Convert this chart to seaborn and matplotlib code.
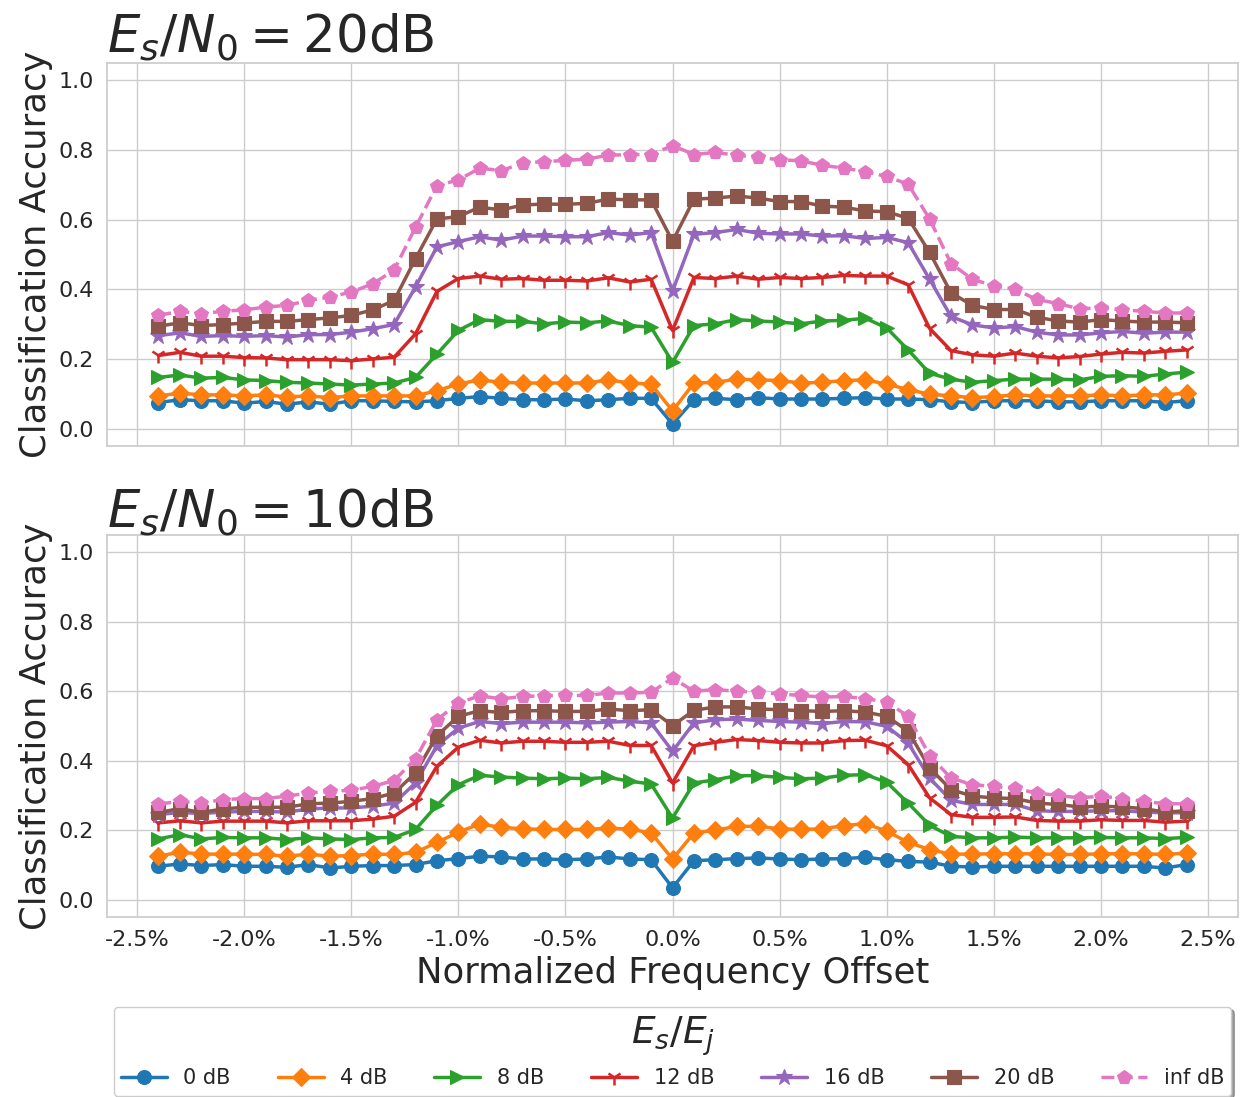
import matplotlib
matplotlib.use("Agg")
import matplotlib.pyplot as plt
from matplotlib.ticker import FuncFormatter, MultipleLocator
import seaborn as sns

# Normalized frequency offset, in percent
offsets = [round(0.1 * k, 1) for k in range(-24, 25)]

# Es/N0 = 20 dB
acc20_0 = [0.075, 0.083, 0.080, 0.080, 0.073, 0.078, 0.070, 0.077, 0.070, 0.080, 0.080, 0.078, 0.077,
           0.080, 0.087, 0.092, 0.087, 0.083, 0.083, 0.085, 0.080, 0.083, 0.087, 0.087, 0.013,
           0.083, 0.087, 0.083, 0.089, 0.085, 0.085, 0.085, 0.087, 0.089, 0.085, 0.085, 0.083,
           0.077, 0.075, 0.080, 0.080, 0.080, 0.077, 0.077, 0.080, 0.080, 0.080, 0.075, 0.080]
acc20_4 = [0.094, 0.102, 0.097, 0.097, 0.094, 0.097, 0.091, 0.094, 0.089, 0.094, 0.094, 0.094, 0.094,
           0.109, 0.128, 0.140, 0.133, 0.131, 0.131, 0.131, 0.131, 0.140, 0.131, 0.128, 0.051,
           0.131, 0.133, 0.142, 0.140, 0.138, 0.131, 0.133, 0.138, 0.140, 0.128, 0.112, 0.099,
           0.094, 0.089, 0.092, 0.097, 0.094, 0.094, 0.094, 0.097, 0.094, 0.097, 0.097, 0.102]
acc20_8 = [0.147, 0.154, 0.145, 0.147, 0.140, 0.138, 0.133, 0.131, 0.128, 0.125, 0.128, 0.131, 0.147,
           0.214, 0.282, 0.313, 0.308, 0.308, 0.301, 0.306, 0.304, 0.309, 0.296, 0.291, 0.190,
           0.296, 0.301, 0.313, 0.309, 0.306, 0.301, 0.309, 0.311, 0.317, 0.289, 0.226, 0.159,
           0.142, 0.133, 0.138, 0.142, 0.142, 0.142, 0.140, 0.150, 0.152, 0.150, 0.157, 0.162]
acc20_12 = [0.210, 0.219, 0.208, 0.208, 0.204, 0.203, 0.198, 0.198, 0.198, 0.195, 0.200, 0.205, 0.272,
            0.394, 0.431, 0.438, 0.429, 0.431, 0.426, 0.426, 0.424, 0.433, 0.421, 0.429, 0.282,
            0.434, 0.431, 0.438, 0.429, 0.434, 0.431, 0.434, 0.440, 0.438, 0.438, 0.413, 0.288,
            0.224, 0.212, 0.208, 0.217, 0.208, 0.203, 0.207, 0.214, 0.219, 0.217, 0.222, 0.226]
acc20_16 = [0.267, 0.275, 0.265, 0.267, 0.265, 0.267, 0.263, 0.270, 0.270, 0.277, 0.287, 0.299, 0.407,
            0.522, 0.537, 0.551, 0.541, 0.553, 0.553, 0.551, 0.551, 0.563, 0.556, 0.563, 0.395,
            0.558, 0.563, 0.572, 0.561, 0.559, 0.559, 0.553, 0.554, 0.546, 0.549, 0.534, 0.429,
            0.322, 0.298, 0.289, 0.293, 0.277, 0.269, 0.269, 0.275, 0.279, 0.274, 0.277, 0.277]
acc20_20 = [0.294, 0.304, 0.296, 0.299, 0.303, 0.308, 0.308, 0.313, 0.318, 0.325, 0.341, 0.368, 0.488,
            0.602, 0.609, 0.636, 0.628, 0.642, 0.645, 0.644, 0.647, 0.659, 0.657, 0.657, 0.538,
            0.659, 0.662, 0.668, 0.662, 0.652, 0.652, 0.639, 0.636, 0.625, 0.623, 0.604, 0.506,
            0.390, 0.354, 0.342, 0.342, 0.320, 0.309, 0.306, 0.313, 0.309, 0.306, 0.306, 0.304]
acc20_inf = [0.325, 0.337, 0.330, 0.337, 0.341, 0.349, 0.354, 0.368, 0.378, 0.392, 0.416, 0.455, 0.578,
             0.698, 0.714, 0.748, 0.741, 0.762, 0.767, 0.770, 0.774, 0.785, 0.787, 0.787, 0.813,
             0.787, 0.793, 0.785, 0.779, 0.772, 0.769, 0.756, 0.748, 0.738, 0.724, 0.702, 0.602,
             0.474, 0.429, 0.410, 0.400, 0.371, 0.359, 0.344, 0.347, 0.341, 0.337, 0.332, 0.332]

# Es/N0 = 10 dB
acc10_0 = [0.096, 0.103, 0.098, 0.101, 0.096, 0.096, 0.093, 0.101, 0.091, 0.096, 0.098, 0.098, 0.101,
           0.112, 0.118, 0.125, 0.123, 0.117, 0.117, 0.115, 0.117, 0.123, 0.117, 0.115, 0.034,
           0.112, 0.115, 0.118, 0.120, 0.117, 0.115, 0.117, 0.118, 0.122, 0.115, 0.110, 0.108,
           0.096, 0.094, 0.096, 0.096, 0.096, 0.096, 0.096, 0.096, 0.096, 0.096, 0.091, 0.101]
acc10_4 = [0.125, 0.137, 0.131, 0.131, 0.131, 0.130, 0.125, 0.131, 0.125, 0.127, 0.131, 0.130, 0.136,
           0.165, 0.194, 0.218, 0.208, 0.204, 0.202, 0.202, 0.202, 0.206, 0.203, 0.192, 0.117,
           0.192, 0.200, 0.211, 0.211, 0.204, 0.202, 0.204, 0.213, 0.219, 0.197, 0.165, 0.144,
           0.131, 0.131, 0.132, 0.132, 0.132, 0.130, 0.130, 0.132, 0.132, 0.132, 0.130, 0.134]
acc10_8 = [0.175, 0.187, 0.175, 0.179, 0.178, 0.178, 0.173, 0.178, 0.175, 0.173, 0.178, 0.179, 0.202,
           0.272, 0.331, 0.358, 0.353, 0.350, 0.348, 0.350, 0.348, 0.352, 0.341, 0.333, 0.235,
           0.336, 0.345, 0.357, 0.357, 0.352, 0.348, 0.350, 0.358, 0.360, 0.338, 0.278, 0.214,
           0.182, 0.178, 0.178, 0.180, 0.178, 0.178, 0.178, 0.179, 0.178, 0.178, 0.176, 0.179]
acc10_12 = [0.221, 0.227, 0.221, 0.226, 0.226, 0.226, 0.221, 0.227, 0.227, 0.227, 0.232, 0.240, 0.280,
            0.384, 0.439, 0.459, 0.451, 0.456, 0.456, 0.453, 0.453, 0.456, 0.444, 0.444, 0.336,
            0.443, 0.453, 0.461, 0.458, 0.453, 0.451, 0.451, 0.458, 0.459, 0.443, 0.389, 0.293,
            0.245, 0.237, 0.237, 0.238, 0.228, 0.226, 0.226, 0.230, 0.228, 0.228, 0.223, 0.226]
acc10_16 = [0.245, 0.251, 0.248, 0.252, 0.254, 0.254, 0.252, 0.261, 0.264, 0.264, 0.269, 0.278, 0.336,
            0.443, 0.494, 0.513, 0.507, 0.511, 0.511, 0.511, 0.509, 0.511, 0.513, 0.509, 0.427,
            0.509, 0.518, 0.520, 0.516, 0.513, 0.511, 0.507, 0.513, 0.512, 0.499, 0.451, 0.350,
            0.286, 0.274, 0.274, 0.274, 0.256, 0.254, 0.254, 0.256, 0.256, 0.252, 0.250, 0.250]
acc10_20 = [0.251, 0.262, 0.251, 0.261, 0.266, 0.266, 0.266, 0.276, 0.278, 0.283, 0.291, 0.307, 0.365,
            0.472, 0.528, 0.544, 0.539, 0.544, 0.544, 0.542, 0.542, 0.549, 0.544, 0.547, 0.501,
            0.545, 0.555, 0.555, 0.549, 0.547, 0.544, 0.542, 0.544, 0.540, 0.528, 0.485, 0.379,
            0.317, 0.298, 0.293, 0.291, 0.278, 0.274, 0.267, 0.269, 0.267, 0.262, 0.252, 0.256]
acc10_inf = [0.275, 0.283, 0.278, 0.288, 0.291, 0.291, 0.298, 0.307, 0.312, 0.315, 0.326, 0.343, 0.405,
             0.518, 0.566, 0.587, 0.578, 0.585, 0.587, 0.588, 0.588, 0.595, 0.595, 0.597, 0.638,
             0.600, 0.605, 0.600, 0.597, 0.592, 0.588, 0.583, 0.585, 0.579, 0.569, 0.528, 0.415,
             0.350, 0.331, 0.326, 0.320, 0.307, 0.300, 0.293, 0.298, 0.291, 0.283, 0.276, 0.276]

series_labels = ["0 dB", "4 dB", "8 dB", "12 dB", "16 dB", "20 dB", "inf dB"]
panel_titles = [r"$E_s/N_0 = 20$dB", r"$E_s/N_0 = 10$dB"]
panels = [
    [acc20_0, acc20_4, acc20_8, acc20_12, acc20_16, acc20_20, acc20_inf],
    [acc10_0, acc10_4, acc10_8, acc10_12, acc10_16, acc10_20, acc10_inf],
]

sns.set_theme(style="whitegrid")
plt.rcParams["font.family"] = ["DejaVu Sans"]

palette = sns.color_palette("tab10", 7)
markers = ["o", "D", ">", "1", "*", "s", "p"]
linestyles = ["-", "-", "-", "-", "-", "-", "--"]
msizes = [10, 9, 10, 11, 12, 10, 10]

fig = plt.figure(figsize=(12.45, 10.97), dpi=100)
ax_top = fig.add_axes([0.086, 0.5934, 0.9084, 0.3492])
ax_bot = fig.add_axes([0.086, 0.1641, 0.9084, 0.3482])

pct = FuncFormatter(lambda v, pos: f"{v:.1f}%")

for ax, title, series in zip([ax_top, ax_bot], panel_titles, panels):
    for vals, lab, col, mk, ls, ms in zip(series, series_labels, palette, markers, linestyles, msizes):
        sns.lineplot(x=offsets, y=vals, ax=ax, color=col, marker=mk, linestyle=ls,
                     linewidth=2.5, markersize=ms, markeredgecolor=col,
                     markeredgewidth=1.8 if mk == "1" else 0.8,
                     label=lab, legend=False)
    ax.set_ylim(-0.05, 1.05)
    ax.set_xlim(-2.64, 2.64)
    ax.xaxis.set_major_locator(MultipleLocator(0.5))
    ax.yaxis.set_major_locator(MultipleLocator(0.2))
    ax.xaxis.set_major_formatter(pct)
    ax.tick_params(labelsize=16)
    ax.set_ylabel("Classification Accuracy", fontsize=25.5)
    ax.set_title(title, loc="left", fontsize=37, pad=6)

ax_top.set_xlabel("")
ax_top.set_xticklabels([])
ax_bot.set_xlabel("Normalized Frequency Offset", fontsize=25.5)

handles, labels = ax_top.get_legend_handles_labels()
leg = ax_bot.legend(handles, labels, loc="upper center", bbox_to_anchor=(0.5, -0.2356),
                    borderaxespad=0, ncol=7, title=r"$E_s/E_j$", title_fontsize=27,
                    fontsize=15, frameon=True, fancybox=True, shadow=True,
                    handlelength=2.2, handletextpad=0.8, columnspacing=2.25,
                    borderpad=0.35)

fig.savefig("out.png", dpi=100)
